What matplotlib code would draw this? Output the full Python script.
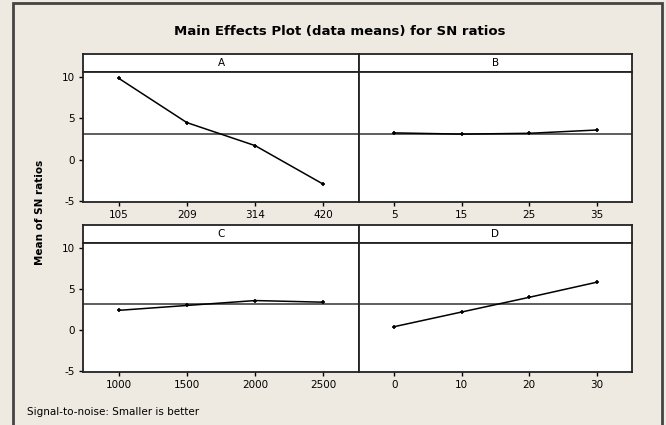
import matplotlib
matplotlib.use("Agg")
import matplotlib.pyplot as plt
from matplotlib.patches import Rectangle

plt.rcParams["axes.unicode_minus"] = False

# Factor levels and mean SN ratios
factors = ["A", "B", "C", "D"]
levels_A = ["105", "209", "314", "420"]
levels_B = ["5", "15", "25", "35"]
levels_C = ["1000", "1500", "2000", "2500"]
levels_D = ["0", "10", "20", "30"]
sn_A = [9.9, 4.5, 1.7, -3.0]
sn_B = [3.25, 3.1, 3.2, 3.6]
sn_C = [2.4, 3.0, 3.6, 3.4]
sn_D = [0.4, 2.2, 4.0, 5.85]
mean_sn = 3.15
y_ticks = [-5, 0, 5, 10]

levels = [levels_A, levels_B, levels_C, levels_D]
values = [sn_A, sn_B, sn_C, sn_D]

W, H = 666, 425
bg = "#EEEAE1"
fig = plt.figure(figsize=(W / 100, H / 100), dpi=100, facecolor=bg)

# panel boxes in pixels: (left, right) and (strip top, plot top, plot bottom)
cols = [(83, 359), (359, 632)]
rows = [(54, 72, 202), (225, 243, 372)]

def fx(px):
    return px / W

def fy(py):
    return 1 - py / H

for i, name in enumerate(factors):
    r, c = divmod(i, 2)
    x0, x1 = cols[c]
    st, pt, pb = rows[r]

    # header strip
    sax = fig.add_axes([fx(x0), fy(pt), fx(x1) - fx(x0), fy(st) - fy(pt)])
    sax.set_xticks([])
    sax.set_yticks([])
    for s in sax.spines.values():
        s.set_linewidth(1.3)
        s.set_color("#222222")
    sax.text(0.5, 0.5, name, ha="center", va="center", fontsize=7.5,
             transform=sax.transAxes)

    ax = fig.add_axes([fx(x0), fy(pb), fx(x1) - fx(x0), fy(pt) - fy(pb)])
    xs = range(1, len(levels[i]) + 1)
    ax.axhline(mean_sn, color="#333333", lw=1.1)
    ax.plot(xs, values[i], color="black", lw=1.1, marker="+", ms=3, mew=1.2)
    ax.set_xlim(0.48, 4.52)
    ax.set_ylim(-5.15, 10.65)
    ax.set_xticks(list(xs))
    ax.set_xticklabels(levels[i])
    for s in ax.spines.values():
        s.set_linewidth(1.3)
        s.set_color("#222222")
    ax.tick_params(direction="out", length=3, width=1, labelsize=7.5, pad=3)
    if c == 0:
        ax.set_yticks(y_ticks)
    else:
        ax.set_yticks([])

fig.text(fx(340), fy(32), "Main Effects Plot (data means) for SN ratios",
         ha="center", va="center", fontsize=9.5, fontweight="bold")
fig.text(fx(40), fy(212), "Mean of SN ratios", ha="center", va="center",
         rotation=90, fontsize=7.5, fontweight="bold")
fig.text(fx(27), fy(412), "Signal-to-noise: Smaller is better",
         ha="left", va="center", fontsize=7.5)

# outer frame
fig.patches.append(Rectangle((fx(13), -0.02), fx(662) - fx(13), fy(3) + 0.02,
                             transform=fig.transFigure, fill=False,
                             edgecolor="#444444", lw=2))

fig.savefig("out.png", dpi=100, facecolor=bg)
